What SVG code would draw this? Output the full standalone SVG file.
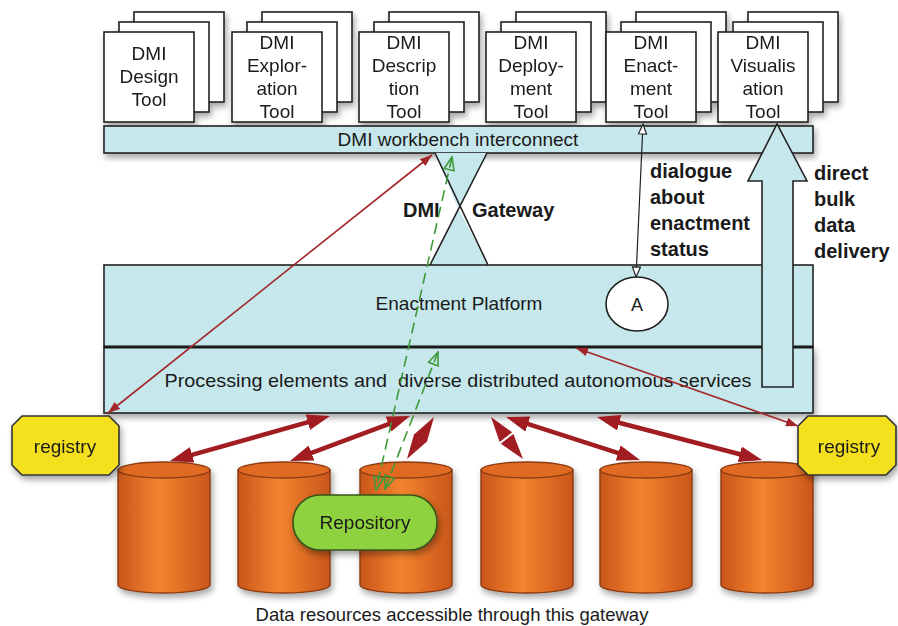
<svg xmlns="http://www.w3.org/2000/svg" width="898" height="626" viewBox="0 0 898 626">
  <style>
    text { font-family: "Liberation Sans", Arial, sans-serif; fill: #1a1a1a; }
    .tool rect { fill: #ffffff; stroke: #222; stroke-width: 1.6; }
    .toolTxt { font-size: 19px; text-anchor: middle; }
    .bar { fill: #c6e8ec; stroke: #222; stroke-width: 1.6; }
    .lbl { font-size: 19px; text-anchor: middle; }
    .bold { font-size: 20px; font-weight: bold; }
    .thinRed { stroke: #a3262a; stroke-width: 1.6; fill: none; marker-start: url(#redSmall); marker-end: url(#redSmall); }
    .thickRed { stroke: #a11d22; stroke-width: 4.5; fill: none; marker-start: url(#redBig); marker-end: url(#redBig); }
    .redHead { fill: #a11d22; }
    .green { stroke: #3f9a3a; stroke-width: 1.6; stroke-dasharray: 11 6; fill: none; marker-start: url(#greenOpen); marker-end: url(#greenOpen); }
    .cyl { fill: url(#cylGrad); stroke: #8a3c12; stroke-width: 1.4; }
    .cylTop { fill: #e06a22; stroke: #8a3c12; stroke-width: 1.4; }
    .reg { fill: #f4e01e; stroke: #333; stroke-width: 1.6; }
  </style>
  <defs>
    <filter id="shadow" x="-10%" y="-10%" width="130%" height="140%">
      <feDropShadow dx="2" dy="4" stdDeviation="3" flood-color="#000" flood-opacity="0.35"/>
    </filter>
    <linearGradient id="cylGrad" x1="0" y1="0" x2="1" y2="0">
      <stop offset="0" stop-color="#c9561a"/>
      <stop offset="0.45" stop-color="#f4832e"/>
      <stop offset="1" stop-color="#c9561a"/>
    </linearGradient>
    <marker id="redSmall" viewBox="0 0 12 9" refX="12" refY="4.5" markerWidth="12" markerHeight="9" markerUnits="userSpaceOnUse" orient="auto-start-reverse">
      <path d="M0,0 L12,4.5 L0,9 z" fill="#a3262a"/>
    </marker>
    <marker id="redBig" viewBox="0 0 23 16" refX="15" refY="8" markerWidth="23" markerHeight="16" markerUnits="userSpaceOnUse" orient="auto-start-reverse">
      <path d="M0,0 L23,8 L0,16 z" fill="#a11d22"/>
    </marker>
    <marker id="blackOpen" viewBox="0 0 12 10" refX="11" refY="5" markerWidth="12" markerHeight="10" markerUnits="userSpaceOnUse" orient="auto-start-reverse">
      <path d="M1,1 L11,5 L1,9 z" fill="#fff" stroke="#222" stroke-width="1.2"/>
    </marker>
    <marker id="greenOpen" viewBox="0 0 15 12" refX="14" refY="6" markerWidth="15" markerHeight="12" markerUnits="userSpaceOnUse" orient="auto-start-reverse">
      <path d="M1,1 L14,6 L1,11 z" fill="none" stroke="#3f9a3a" stroke-width="1.6"/>
    </marker>
  </defs>

  <rect x="0" y="0" width="898" height="626" fill="#ffffff"/>

  <!-- Tool stacks -->
  <g id="tool-design" class="tool" filter="url(#shadow)">
    <rect x="134" y="12" width="90" height="90"/>
    <rect x="119" y="22" width="90" height="90"/>
    <rect x="104" y="32" width="90" height="90"/>
    <text class="toolTxt" x="149" y="60">DMI</text>
    <text class="toolTxt" x="149" y="83">Design</text>
    <text class="toolTxt" x="149" y="106">Tool</text>
  </g>
  <g id="tool-exploration" class="tool" filter="url(#shadow)">
    <rect x="262" y="12" width="90" height="90"/>
    <rect x="247" y="22" width="90" height="90"/>
    <rect x="232" y="32" width="90" height="90"/>
    <text class="toolTxt" x="277" y="49">DMI</text>
    <text class="toolTxt" x="277" y="72">Explor-</text>
    <text class="toolTxt" x="277" y="95">ation</text>
    <text class="toolTxt" x="277" y="118">Tool</text>
  </g>
  <g id="tool-description" class="tool" filter="url(#shadow)">
    <rect x="389" y="12" width="90" height="90"/>
    <rect x="374" y="22" width="90" height="90"/>
    <rect x="359" y="32" width="90" height="90"/>
    <text class="toolTxt" x="404" y="49">DMI</text>
    <text class="toolTxt" x="404" y="72">Descrip</text>
    <text class="toolTxt" x="404" y="95">tion</text>
    <text class="toolTxt" x="404" y="118">Tool</text>
  </g>
  <g id="tool-deployment" class="tool" filter="url(#shadow)">
    <rect x="516" y="12" width="90" height="90"/>
    <rect x="501" y="22" width="90" height="90"/>
    <rect x="486" y="32" width="90" height="90"/>
    <text class="toolTxt" x="531" y="49">DMI</text>
    <text class="toolTxt" x="531" y="72">Deploy-</text>
    <text class="toolTxt" x="531" y="95">ment</text>
    <text class="toolTxt" x="531" y="118">Tool</text>
  </g>
  <g id="tool-enactment" class="tool" filter="url(#shadow)">
    <rect x="636" y="12" width="90" height="90"/>
    <rect x="621" y="22" width="90" height="90"/>
    <rect x="606" y="32" width="90" height="90"/>
    <text class="toolTxt" x="651" y="49">DMI</text>
    <text class="toolTxt" x="651" y="72">Enact-</text>
    <text class="toolTxt" x="651" y="95">ment</text>
    <text class="toolTxt" x="651" y="118">Tool</text>
  </g>
  <g id="tool-visualisation" class="tool" filter="url(#shadow)">
    <rect x="748" y="12" width="90" height="90"/>
    <rect x="733" y="22" width="90" height="90"/>
    <rect x="718" y="32" width="90" height="90"/>
    <text class="toolTxt" x="763" y="49">DMI</text>
    <text class="toolTxt" x="763" y="72">Visualis</text>
    <text class="toolTxt" x="763" y="95">ation</text>
    <text class="toolTxt" x="763" y="118">Tool</text>
  </g>

  <!-- Workbench interconnect bar -->
  <g id="workbench">
    <rect class="bar" x="104" y="126" width="709" height="27" filter="url(#shadow)"/>
    <text class="lbl" x="458" y="146">DMI workbench interconnect</text>
  </g>

  <!-- Gateway hourglass -->
  <g id="gateway">
    <path d="M435,153 L487,153 L458,208 Z M458,208 L430,265 L488,265 Z" fill="#c6e8ec" stroke="none"/>
    <path d="M435,153 L488,265 M487,153 L430,265" stroke="#222" stroke-width="1.6" fill="none"/>
    <text class="bold" x="403" y="217">DMI</text>
    <text class="bold" x="472" y="217">Gateway</text>
  </g>

  <!-- Enactment platform and processing layer -->
  <g id="enactment-platform">
    <rect class="bar" x="104" y="265" width="709" height="82"/>
    <text class="lbl" x="459" y="310">Enactment Platform</text>
  </g>
  <g id="processing">
    <rect class="bar" x="104" y="347" width="709" height="66" filter="url(#shadow)"/>
    <line x1="104" y1="347" x2="813" y2="347" stroke="#1a1a1a" stroke-width="3"/>
    <text class="lbl" x="458" y="387" style="white-space:pre" textLength="587" lengthAdjust="spacingAndGlyphs">Processing elements and  diverse distributed autonomous services</text>
  </g>

  <g id="agent-a">
    <ellipse cx="637" cy="304" rx="31" ry="27" fill="#ffffff" stroke="#222" stroke-width="1.6"/>
    <text class="lbl" x="637" y="311" style="font-size:18px">A</text>
  </g>

  <!-- Bulk data delivery arrow -->
  <g id="bulk-arrow">
    <polygon points="762,387 762,181 748,181 777,124 807,181 793,181 793,387" fill="#c6e8ec" stroke="#222" stroke-width="1.6"/>
  </g>

  <!-- Side labels -->
  <g id="labels">
    <text class="bold" x="650" y="178">dialogue</text>
    <text class="bold" x="650" y="204">about</text>
    <text class="bold" x="650" y="230">enactment</text>
    <text class="bold" x="650" y="256">status</text>
    <text class="bold" x="814" y="180">direct</text>
    <text class="bold" x="814" y="206">bulk</text>
    <text class="bold" x="814" y="232">data</text>
    <text class="bold" x="814" y="258">delivery</text>
  </g>

  <!-- Data resources -->
  <g id="data-resources" filter="url(#shadow)">
    <g id="db1"><path class="cyl" d="M118,470 L118,585 A46,8 0 0 0 210,585 L210,470 Z"/><ellipse class="cylTop" cx="164" cy="470" rx="46" ry="8"/></g>
    <g id="db2"><path class="cyl" d="M238,470 L238,585 A46,8 0 0 0 330,585 L330,470 Z"/><ellipse class="cylTop" cx="284" cy="470" rx="46" ry="8"/></g>
    <g id="db3"><path class="cyl" d="M360,470 L360,585 A46,8 0 0 0 452,585 L452,470 Z"/><ellipse class="cylTop" cx="406" cy="470" rx="46" ry="8"/></g>
    <g id="db4"><path class="cyl" d="M481,470 L481,585 A46,8 0 0 0 573,585 L573,470 Z"/><ellipse class="cylTop" cx="527" cy="470" rx="46" ry="8"/></g>
    <g id="db5"><path class="cyl" d="M600,470 L600,585 A46,8 0 0 0 692,585 L692,470 Z"/><ellipse class="cylTop" cx="646" cy="470" rx="46" ry="8"/></g>
    <g id="db6"><path class="cyl" d="M721,470 L721,585 A46,8 0 0 0 813,585 L813,470 Z"/><ellipse class="cylTop" cx="767" cy="470" rx="46" ry="8"/></g>
  </g>

  <!-- Registries -->
  <g id="registry-left" filter="url(#shadow)">
    <polygon class="reg" points="22,416 109,416 119,426 119,465 109,475 22,475 12,465 12,426"/>
    <text class="lbl" x="65" y="453">registry</text>
  </g>
  <g id="registry-right" filter="url(#shadow)">
    <polygon class="reg" points="808,416 886,416 896,426 896,465 886,475 808,475 798,465 798,426"/>
    <text class="lbl" x="849" y="453">registry</text>
  </g>

  <!-- Repository -->
  <g id="repository" filter="url(#shadow)">
    <rect x="293" y="495" width="144" height="55" rx="27" ry="27" fill="#8ed23f" stroke="#36561a" stroke-width="1.6"/>
    <text class="lbl" x="365" y="529">Repository</text>
  </g>

  <!-- Connectors -->
  <g id="connectors">
    <line class="thinRed" x1="432" y1="155" x2="108" y2="413"/>
    <line class="thinRed" x1="576" y1="348" x2="798" y2="426"/>
    <line x1="643" y1="124" x2="636" y2="277" stroke="#222" stroke-width="1.2" marker-start="url(#blackOpen)" marker-end="url(#blackOpen)"/>
    <line class="thickRed" x1="177.7" y1="458.8" x2="322.3" y2="418.2"/>
    <line class="thickRed" x1="297.5" y1="458.2" x2="402.5" y2="418.8"/>
    <!-- short two-way links drawn as head-to-head triangles -->
    <polygon class="redHead" points="407,459 427,441.6 434,417 414,434.4"/>
    <polygon class="redHead" points="523,459 513.4,433.9 500.8,443.7"/>
    <polygon class="redHead" points="491,417 512.2,432.3 499.6,442.1"/>
    <line class="thickRed" x1="632.4" y1="457.6" x2="513.6" y2="419.4"/>
    <line class="thickRed" x1="754.3" y1="458" x2="604.7" y2="419"/>
    <line class="green" x1="452" y1="157" x2="376" y2="490"/>
    <line class="green" x1="438" y1="352" x2="385" y2="489"/>
  </g>

  <text class="lbl" x="452" y="621" style="font-size:18.5px">Data resources accessible through this gateway</text>
</svg>
